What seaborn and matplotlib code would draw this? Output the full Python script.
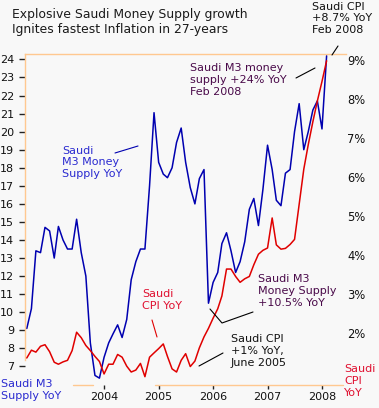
import numpy as np
import pandas as pd
import matplotlib
matplotlib.use("Agg")
import matplotlib.pyplot as plt
from matplotlib.lines import Line2D
import seaborn as sns

# ---------------- data ----------------
months = pd.date_range("2002-08-01", periods=67, freq="MS")
m3_yoy = [9.1, 10.2, 13.4, 13.3, 14.7, 14.5, 13.0, 14.75, 14.0, 13.5,
          13.5, 15.15, 13.3, 12.0, 8.3, 6.5, 6.35, 7.5, 8.3, 8.8,
          9.3, 8.6, 9.6, 11.8, 12.8, 13.5, 13.5, 17.0, 21.05, 18.3,
          17.65, 17.45, 18.0, 19.4, 20.2, 18.3, 16.9, 16.0, 17.4, 17.9,
          10.5, 11.65, 12.2, 13.8, 14.4, 13.4, 12.2, 12.8, 13.9, 15.7,
          16.3, 14.8, 16.8, 19.25, 17.9, 16.2, 15.9, 17.7, 17.9, 20.0,
          21.55, 19.0, 20.0, 21.2, 21.7, 20.15, 24.2]
cpi_yoy = [1.36, 1.56, 1.51, 1.66, 1.70, 1.52, 1.25, 1.2, 1.26, 1.3,
           1.55, 2.02, 1.88, 1.68, 1.55, 1.4, 1.27, 0.95, 1.2, 1.2,
           1.45, 1.38, 1.15, 1.0, 1.05, 1.22, 0.88, 1.38, 1.49, 1.6,
           1.72, 1.4, 1.08, 1.0, 1.3, 1.47, 1.14, 1.28, 1.62, 1.9,
           2.12, 2.38, 2.62, 2.95, 3.64, 3.64, 3.45, 3.3, 3.39, 3.45,
           3.75, 4.02, 4.12, 4.18, 4.95, 4.26, 4.15, 4.17, 4.27, 4.4,
           5.3, 6.2, 6.83, 7.42, 7.95, 8.45, 8.98]
left_ticks = list(range(7, 25))
right_ticks = [2, 3, 4, 5, 6, 7, 8, 9]
right_tick_labels = [f"{v}%" for v in right_ticks]
year_ticks = [2004, 2005, 2006, 2007, 2008]

df = pd.DataFrame({"month": months, "m3": m3_yoy, "cpi": cpi_yoy})

# ---------------- style ----------------
sns.set_theme(style="white")
plt.rcParams["font.family"] = ["DejaVu Sans"]
BG = "#f8f8f8"
ORANGE = "#ffc890"
BLUE = "#0000b0"
RED = "#e00000"
TXT = "#111111"
PURPLE = "#4a0a4a"
BLUE_TXT = "#2a2ad0"
RED_TXT = "#e01030"

W, H = 379, 408
fig = plt.figure(figsize=(W / 100, H / 100), dpi=100, facecolor=BG)

def fx(px):
    return px / W

def fy(py):
    return 1 - py / H

ax = fig.add_axes([fx(25), fy(385), (346 - 25) / W, (385 - 54) / H])
ax.set_facecolor(BG)

sns.lineplot(data=df, x="month", y="m3", ax=ax, color=BLUE, lw=1.1)
ax2 = ax.twinx()
sns.lineplot(data=df, x="month", y="cpi", ax=ax2, color=RED, lw=1.1)

ymin, ymax = 5.97, 24.3
ax.set_ylim(ymin, ymax)
ax2.set_ylim(0.667, 9.154)
ax.set_xlim(pd.Timestamp("2002-07-20"), pd.Timestamp("2008-06-10"))

for a in (ax, ax2):
    a.set_xlabel("")
    a.set_ylabel("")
    a.grid(False)

# spines
ax.spines["right"].set_visible(False)
for s in ax2.spines.values():
    s.set_visible(False)
for s in ["top", "left"]:
    ax.spines[s].set_color(ORANGE)
    ax.spines[s].set_linewidth(1.0)
ax.spines["bottom"].set_visible(False)
ax.spines["left"].set_bounds(7.35, ymax)
for x0, x1 in [((73 - 25) / 321, (93 - 25) / 321), ((155 - 25) / 321, (343 - 25) / 321)]:
    ax.plot([x0, x1], [0, 0], transform=ax.transAxes, color=ORANGE, lw=1.0,
            clip_on=False, zorder=3)

# ticks
ax.set_yticks(left_ticks)
ax.set_yticklabels([str(v) for v in left_ticks])
ax.tick_params(axis="y", which="both", left=True, length=4, width=1,
               color="#222222", pad=4, labelsize=8, labelcolor=TXT)
ax2.set_yticks(right_ticks)
ax2.set_yticklabels(right_tick_labels)
ax2.tick_params(axis="y", right=True, length=0, pad=1, labelsize=8.3,
                labelcolor=TXT)
ax.set_xticks([pd.Timestamp(f"{y}-01-01") for y in year_ticks])
ax.set_xticklabels([str(y) for y in year_ticks])
ax.tick_params(axis="x", bottom=True, length=3, width=1, color="#222222",
               pad=2, labelsize=8, labelcolor=TXT)

# ---------------- texts ----------------
fig.text(fx(12), fy(8), "Explosive Saudi Money Supply growth\nIgnites fastest Inflation in 27-years",
         ha="left", va="top", fontsize=8.9, color="#1a1a1a", linespacing=1.2)

def note(px, py, s, color):
    fig.text(fx(px), fy(py), s, ha="left", va="top", fontsize=8,
             color=color, linespacing=1.22, zorder=6)

def leader(pts, color="black"):
    xs = [fx(p[0]) for p in pts]
    ys = [fy(p[1]) for p in pts]
    fig.add_artist(Line2D(xs, ys, color=color, lw=0.8, transform=fig.transFigure))

note(312, 1.5, "Saudi CPI\n+8.7% YoY\nFeb 2008", TXT)
leader([(332, 55), (338, 46)])

note(190, 63, "Saudi M3 money\nsupply +24% YoY\nFeb 2008", PURPLE)
leader([(296, 78), (315, 68)])

note(62, 145.5, "Saudi\nM3 Money\nSupply YoY", BLUE_TXT)
leader([(115, 153), (138, 146)], BLUE)

note(142, 289, "Saudi\nCPI YoY", RED_TXT)
leader([(152, 320), (157, 337)], RED)

note(258, 274, "Saudi M3\nMoney Supply\n+10.5% YoY", PURPLE)
leader([(210, 309), (222, 323), (253, 312)])

note(231, 334, "Saudi CPI\n+1% YoY,\nJune 2005", TXT)
leader([(199, 366), (223, 353)])

note(1, 379, "Saudi M3\nSupply YoY", BLUE_TXT)
note(344, 364, "Saudi\nCPI\nYoY", RED_TXT)

fig.savefig("out.png", dpi=100, facecolor=BG)
